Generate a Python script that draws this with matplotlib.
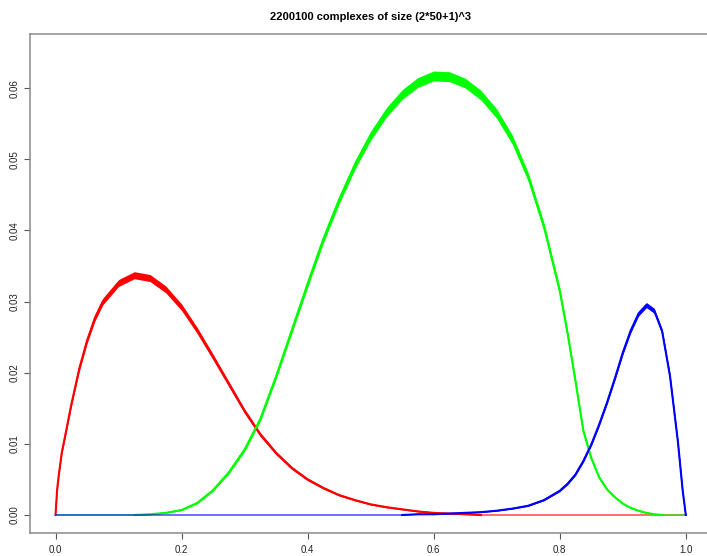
import numpy as np
import matplotlib.pyplot as plt

plt.rcParams['font.family'] = ['Liberation Sans', 'DejaVu Sans']

# fraction grid shared by the three curves
x = [0.0, 0.0025, 0.005, 0.01, 0.015, 0.025, 0.0375, 0.05, 0.0625, 0.075,
     0.1, 0.125, 0.15, 0.175, 0.2, 0.225, 0.25, 0.275, 0.3, 0.325,
     0.35, 0.375, 0.4, 0.425, 0.45, 0.475, 0.5, 0.525, 0.55, 0.575,
     0.6, 0.625, 0.65, 0.675, 0.7, 0.725, 0.75, 0.775, 0.8, 0.8125,
     0.825, 0.8375, 0.85, 0.8625, 0.875, 0.8875, 0.9, 0.9125, 0.925, 0.9375,
     0.95, 0.9625, 0.975, 0.9875, 0.995, 1.0]

red = [0.0, 0.0035, 0.0055, 0.0088, 0.0110, 0.0155, 0.0205, 0.0245, 0.0277, 0.0300,
       0.0326, 0.0337, 0.0333, 0.0317, 0.0292, 0.0259, 0.0222, 0.0184, 0.0146, 0.0113,
       0.0087, 0.0066, 0.0050, 0.0038, 0.0028, 0.0021, 0.0015, 0.0011, 0.0008, 0.0005,
       0.0003, 0.0002, 0.0001, 0.0, 0.0, 0.0, 0.0, 0.0, 0.0, 0.0,
       0.0, 0.0, 0.0, 0.0, 0.0, 0.0, 0.0, 0.0, 0.0, 0.0,
       0.0, 0.0, 0.0, 0.0, 0.0, 0.0]

green = [0.0, 0.0, 0.0, 0.0, 0.0, 0.0, 0.0, 0.0, 0.0, 0.0,
         0.0, 0.0, 0.0001, 0.0003, 0.0007, 0.0017, 0.0035, 0.0060, 0.0092, 0.0135,
         0.0195, 0.0260, 0.0325, 0.0388, 0.0443, 0.0492, 0.0533, 0.0566, 0.0591, 0.0608,
         0.0617, 0.0616, 0.0607, 0.0590, 0.0564, 0.0527, 0.0475, 0.0405, 0.0315, 0.0255,
         0.0188, 0.0118, 0.0080, 0.0053, 0.0036, 0.0025, 0.0016, 0.0010, 0.0006, 0.0003,
         0.0001, 0.0, 0.0, 0.0, 0.0, 0.0]

blue = [0.0, 0.0, 0.0, 0.0, 0.0, 0.0, 0.0, 0.0, 0.0, 0.0,
        0.0, 0.0, 0.0, 0.0, 0.0, 0.0, 0.0, 0.0, 0.0, 0.0,
        0.0, 0.0, 0.0, 0.0, 0.0, 0.0, 0.0, 0.0, 0.0, 0.0001,
        0.0001, 0.0002, 0.0003, 0.0004, 0.0006, 0.0009, 0.0013, 0.0021, 0.0034, 0.0044,
        0.0057, 0.0076, 0.0099, 0.0127, 0.0158, 0.0192, 0.0228, 0.0259, 0.0283, 0.0295,
        0.0287, 0.0258, 0.0195, 0.0103, 0.0035, 0.0]

title = '2200100 complexes of size (2*50+1)^3'
xticks = [0.0, 0.2, 0.4, 0.6, 0.8, 1.0]
yticks = [0.0, 0.01, 0.02, 0.03, 0.04, 0.05, 0.06]

fig = plt.figure(figsize=(7.07, 5.56), dpi=100)
ax = fig.add_axes([30 / 707, 23 / 556, 681 / 707, 499 / 556])

xs = np.array(x)
# scatter of the sampled estimates shows as a band around each curve
for vals, col, k in ((red, '#ff0000', 0.0027),
                     (green, '#00ff00', 0.0028),
                     (blue, '#0000ff', 0.0021)):
    v = np.array(vals)
    ax.plot(xs, v, color=col, lw=0.8)
    on = np.convolve(v > 0, [1, 1, 1], mode='same') > 0
    hw = k * np.sqrt(v)
    ax.fill_between(xs, v - hw, v + hw, where=on, color=col, lw=0)
    ax.plot(xs, np.where(on, v, np.nan), color=col, lw=1.5)

ax.set_xlim(-0.0405, 1.04)
ax.set_ylim(-0.00253, 0.0676)
ax.set_xticks(xticks)
ax.set_xticklabels(['%.1f' % t for t in xticks])
ax.set_yticks(yticks)
ax.set_yticklabels(['%.2f' % t for t in yticks], rotation=90, va='center')

for s in ax.spines.values():
    s.set_color('#8a8a8a')
    s.set_linewidth(1.1)
ax.tick_params(axis='both', length=4.3, width=0.8, color='#555555',
               labelsize=7, labelcolor='#222222')
ax.tick_params(axis='x', pad=4)
ax.tick_params(axis='y', pad=3)

fig.text(370.5 / 707, 1 - 17 / 556, title, ha='center', va='center',
         fontsize=8, fontweight='bold')

plt.savefig('out.png', dpi=100)
